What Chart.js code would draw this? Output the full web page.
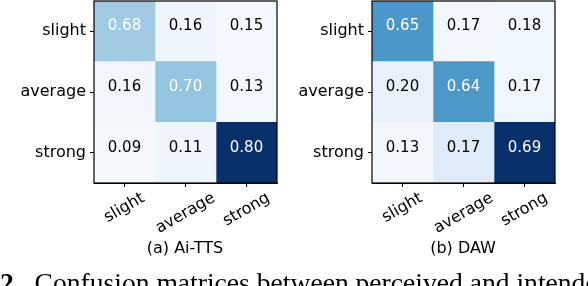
<!DOCTYPE html>
<html>
<head>
<meta charset="utf-8">
<script src="https://cdn.jsdelivr.net/npm/chart.js@4/dist/chart.umd.min.js"></script>
<style>
  body { margin: 0; width: 588px; height: 286px; background: #fff; overflow: hidden; position: relative; }
  canvas { position: absolute; top: 0; }
  .sub { position: absolute; top: 238px; width: 200px; text-align: center; font: 16px "DejaVu Sans"; line-height: 20px; color: #000; }
  .cap { position: absolute; left: 0; top: 269px; white-space: nowrap; font: 27.6px "Liberation Serif"; line-height: 27px; color: #000; }
</style>
</head>
<body>
<canvas id="aiTts" width="290" height="240" style="left:0"></canvas>
<canvas id="daw" width="298" height="240" style="left:290px"></canvas>
<div class="sub" style="left:85px">(a) Ai-TTS</div>
<div class="sub" style="left:363px">(b) DAW</div>
<div class="cap"><b>2.</b>&nbsp; Confusion matrices between perceived and intended emotion intensity</div>
<script>
// labels, same for rows and columns
const categories = ['slight', 'average', 'strong'];

// rows = slight / average / strong
const aiTtsValues = [
  [0.68, 0.16, 0.15],
  [0.16, 0.70, 0.13],
  [0.09, 0.11, 0.80]
];
const dawValues = [
  [0.65, 0.17, 0.18],
  [0.20, 0.64, 0.17],
  [0.13, 0.17, 0.69]
];

// cell colours (Blues)
const aiTtsColors = [
  ['#a0cbe2', '#eef5fc', '#f2f8fd'],
  ['#f0f6fc', '#94c4df', '#f3f8fe'],
  ['#f5f9fe', '#eef5fc', '#08306b']
];
const dawColors = [
  ['#4a98c9', '#f1f7fd', '#f0f6fd'],
  ['#e8f1fa', '#4b98c9', '#f0f6fd'],
  ['#f2f7fd', '#dfebf7', '#08306b']
];

Chart.defaults.font.family = '"DejaVu Sans"';
Chart.defaults.color = '#000';

const ang = Math.PI / 6;

const matrixText = {
  id: 'matrixText',
  afterDraw(chart) {
    const {ctx, chartArea: a, scales: {x}} = chart;
    ctx.save();
    // frame
    ctx.strokeStyle = '#000';
    ctx.lineWidth = 1.2;
    ctx.strokeRect(a.left, a.top, a.right - a.left, a.bottom - a.top);
    // numbers in the cells
    ctx.font = '15px "DejaVu Sans"';
    ctx.textAlign = 'center';
    ctx.textBaseline = 'middle';
    chart.data.datasets.forEach((ds, j) => {
      chart.getDatasetMeta(j).data.forEach((bar, i) => {
        const v = ds.values[i];
        ctx.fillStyle = v > 0.5 ? '#fff' : '#000';
        ctx.fillText(v.toFixed(2), (bar.x + bar.base) / 2, bar.y - 5);
      });
    });
    // rotated column labels, centred under the ticks like matplotlib
    ctx.font = '16px "DejaVu Sans"';
    ctx.fillStyle = '#000';
    categories.forEach((lab, j) => {
      const w = ctx.measureText(lab).width;
      const h = 16;
      const cx = x.getPixelForValue(j + 0.5);
      const cy = a.bottom + 7 + (w * Math.sin(ang) + h * Math.cos(ang)) / 2;
      ctx.save();
      ctx.translate(cx, cy);
      ctx.rotate(-ang);
      ctx.fillText(lab, 0, 0);
      ctx.restore();
    });
    ctx.restore();
  }
};

function makeMatrix(id, values, colors, yWidth, padRight) {
  const datasets = categories.map((c, j) => ({
    data: values.map(() => [j, j + 1]),
    values: values.map(row => row[j]),
    backgroundColor: colors.map(row => row[j]),
    borderWidth: 0,
    grouped: false,
    barPercentage: 1,
    categoryPercentage: 1
  }));
  return new Chart(document.getElementById(id), {
    type: 'bar',
    data: { labels: categories, datasets: datasets },
    options: {
      indexAxis: 'y',
      responsive: false,
      animation: false,
      devicePixelRatio: 1,
      layout: { padding: { top: 1, right: padRight, bottom: 0, left: 0 } },
      plugins: { legend: { display: false }, tooltip: { enabled: false } },
      scales: {
        x: {
          type: 'linear',
          min: 0,
          max: 3,
          afterBuildTicks: s => { s.ticks = [0.5, 1.5, 2.5].map(v => ({ value: v })); },
          afterFit: s => { s.height = 57; s.paddingLeft = 0; s.paddingRight = 0; },
          ticks: { display: false },
          grid: { drawOnChartArea: false, drawTicks: true, tickLength: 4, color: '#000' },
          border: { display: true, color: '#000' }
        },
        y: {
          afterFit: s => { s.width = yWidth; s.paddingTop = 0; s.paddingBottom = 0; },
          ticks: { font: { size: 16 }, padding: 4, color: '#000' },
          grid: { offset: false, drawOnChartArea: false, drawTicks: true, tickLength: 4, color: '#000' },
          border: { display: true, color: '#000' }
        }
      }
    },
    plugins: [matrixText]
  });
}

makeMatrix('aiTts', aiTtsValues, aiTtsColors, 94, 13);
makeMatrix('daw', dawValues, dawColors, 82, 33);
</script>
</body>
</html>
